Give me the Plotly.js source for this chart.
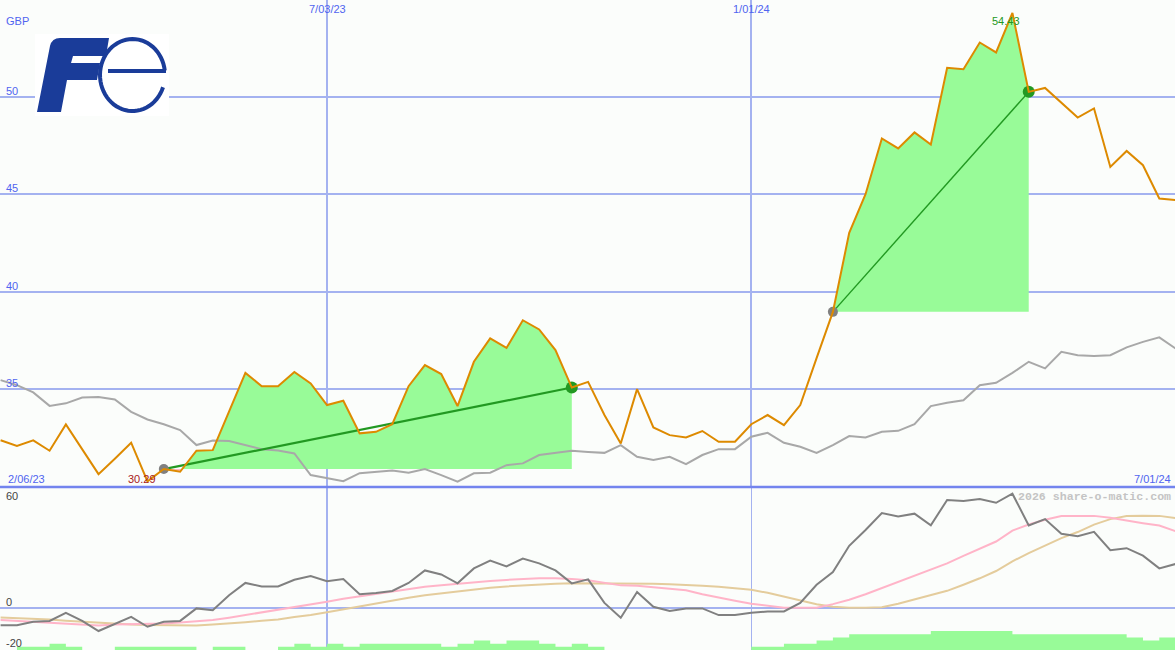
<!DOCTYPE html>
<html>
<head>
<meta charset="utf-8">
<script src="https://cdn.plot.ly/plotly-3.0.1.min.js"></script>
<style>html,body{margin:0;padding:0;background:#fbfdfb;}#chart{width:1175px;height:650px;}</style>
</head>
<body>
<div id="chart"></div>
<script>
// ---------- DATA ----------
const dates = [
 '2023-02-13','2023-02-20','2023-02-27','2023-03-06','2023-03-13','2023-03-20','2023-03-27','2023-04-03','2023-04-10','2023-04-17',
 '2023-04-24','2023-05-01','2023-05-08','2023-05-15','2023-05-22','2023-05-29','2023-06-05','2023-06-12','2023-06-19','2023-06-26',
 '2023-07-03','2023-07-10','2023-07-17','2023-07-24','2023-07-31','2023-08-07','2023-08-14','2023-08-21','2023-08-28','2023-09-04',
 '2023-09-11','2023-09-18','2023-09-25','2023-10-02','2023-10-09','2023-10-16','2023-10-23','2023-10-30','2023-11-06','2023-11-13',
 '2023-11-20','2023-11-27','2023-12-04','2023-12-11','2023-12-18','2023-12-25','2024-01-01','2024-01-08','2024-01-15','2024-01-22',
 '2024-01-29','2024-02-05','2024-02-12','2024-02-19','2024-02-26','2024-03-04','2024-03-11','2024-03-18','2024-03-25','2024-04-01',
 '2024-04-08','2024-04-15','2024-04-22','2024-04-29','2024-05-06','2024-05-13','2024-05-20','2024-05-27','2024-06-03','2024-06-10',
 '2024-06-17','2024-06-24','2024-07-01'];

// share price, GBP
const price = [
 32.40,32.10,32.39,31.86,33.21,31.94,30.66,31.45,32.27,30.29,
 30.92,30.78,31.86,31.89,33.87,35.85,35.17,35.17,35.90,35.31,
 34.20,34.42,32.75,32.83,33.22,35.17,36.25,35.79,34.15,36.42,
 37.62,37.13,38.55,38.08,37.02,35.10,35.39,33.69,32.23,35.02,
 33.05,32.66,32.54,32.87,32.32,32.32,33.22,33.69,33.17,34.20,
 36.61,38.98,43.03,45.01,47.87,47.36,48.18,47.56,51.49,51.42,
 52.79,52.28,54.31,50.26,50.46,49.70,48.94,49.41,46.41,47.23,
 46.50,44.79,44.71];

// relative-strength comparison line (grey)
const relative = [
 35.48,35.22,34.85,34.16,34.29,34.59,34.62,34.49,33.85,33.46,
 33.22,32.92,32.15,32.38,32.36,32.15,31.94,31.87,31.72,30.61,
 30.47,30.30,30.71,30.76,30.84,30.73,30.92,30.61,30.27,30.70,
 30.73,31.12,31.21,31.64,31.75,31.86,31.80,31.75,32.15,31.55,
 31.38,31.55,31.17,31.64,31.94,31.94,32.58,32.78,32.27,32.06,
 31.75,32.15,32.61,32.54,32.83,32.88,33.22,34.15,34.32,34.45,
 35.22,35.34,35.85,36.42,36.08,36.93,36.76,36.72,36.76,37.16,
 37.44,37.67,37.10];

// lower panel: momentum (dark grey) and its two averages
const momentum = [
 -8.4,-8.4,-6.7,-6.3,-2.3,-6.3,-11.3,-7.9,-4.3,-9.2,
 -6.7,-6.3,-0.1,-1.0,6.4,12.5,10.8,10.8,14.1,15.9,
 13.4,14.4,6.9,7.5,8.5,12.5,18.7,16.7,12.3,19.7,
 23.6,20.7,24.6,22.2,18.7,12.3,14.3,2.6,-4.7,8.0,
 0.7,-1.4,-0.1,-0.1,-3.4,-3.4,-2.3,-1.6,-1.6,2.6,
 11.6,17.9,30.9,38.7,47.1,45.4,46.8,41.0,53.6,53.1,
 54.0,52.2,56.7,41.0,44.1,36.8,35.6,37.8,28.7,29.7,
 26.0,19.7,21.9];

const avgFast = [
 -5.9,-6.4,-6.9,-7.4,-7.9,-8.4,-8.6,-8.1,-7.9,-7.9,
 -7.6,-7.1,-6.4,-5.9,-4.7,-3.4,-2.0,-0.7,0.5,1.7,
 3.2,4.7,5.9,7.1,8.4,9.6,10.6,11.3,12.1,12.8,
 13.5,14.0,14.5,14.8,14.8,14.5,13.8,12.6,11.3,11.1,
 10.3,9.6,8.9,6.9,5.2,3.7,2.2,1.2,0.2,0.2,
 0.2,2.0,4.2,6.9,9.9,13.1,16.3,19.2,22.2,25.9,
 29.6,33.0,38.4,41.4,43.8,45.6,45.7,45.7,44.8,43.3,
 42.1,40.9,38.1];

const avgSlow = [
 -4.6,-4.9,-5.3,-5.6,-6.2,-6.7,-7.4,-7.9,-8.1,-8.3,
 -8.4,-8.6,-8.6,-8.1,-7.6,-6.9,-6.2,-5.6,-4.4,-3.4,
 -2.0,-0.5,1.0,2.5,3.9,5.2,6.4,7.4,8.4,9.4,
 10.1,10.8,11.3,11.8,12.1,12.3,12.3,12.3,12.3,12.2,
 12.1,11.8,11.6,11.1,10.6,9.9,9.1,7.6,5.7,3.7,
 2.0,0.7,0.2,0.2,0.5,2.2,4.4,6.4,8.6,11.6,
 14.8,18.4,23.2,27.3,30.8,34.7,37.7,41.4,44.1,45.6,
 45.8,45.7,44.6];

// weekly volume (relative units)
const volume = [
 0,1,1,2,1,0,0,1,1,1,
 1,1,0,1,1,0,0,1,2,1,
 2,1,2,2,2,2,2,1,2,3,
 2,3,3,2,1,2,1,0,0,0,
 0,0,0,0,0,0,1,1,2,2,
 3,4,5,5,5,5,5,6,6,6,
 6,6,5,5,5,5,5,5,5,4,
 3,4,4];

// highlighted rises (start index, end index into the weekly series)
const rises = [[10, 35], [51, 63]];

const priceTicks = [35, 40, 45, 50];
const lowerTicks = [60, 0, -20];
const dateTicks = ['2023-07-03', '2024-01-01'];
const dateTickText = ['7/03/23', '1/01/24'];
const rangeStartText = '2/06/23';
const rangeEndText = '7/01/24';
const lowText = '30.29';
const highText = '54.43';
const currency = 'GBP';
const watermark = '2026 share-o-matic.com';

// ---------- STYLE ----------
const W = 1175, H = 650;
const BG = '#fbfdfb';
const GRID = '#a4b2f0';
const BLUE_TXT = '#5064f0';
const FILL_UP = '#98fb98';
const FILL_DN = '#ffb6c1';
const TREND = '#229922';
const split = 1 - 487 / H;

const ms = d => new Date(d).getTime();

function regionPoly(i0, i1, above) {
  const base = price[i0];
  const xs = [], ys = [];
  for (let i = i0; i <= i1; i++) {
    if (i > i0) {
      const a = price[i - 1] - base, b = price[i] - base;
      if (a * b < 0) {
        const t = a / (a - b);
        xs.push(ms(dates[i - 1]) + t * (ms(dates[i]) - ms(dates[i - 1])));
        ys.push(base);
      }
    }
    xs.push(ms(dates[i]));
    ys.push(above ? Math.max(price[i], base) : Math.min(price[i], base));
  }
  xs.push(ms(dates[i1]), ms(dates[i0]));
  ys.push(base, base);
  return {xs, ys};
}

const traces = [];
rises.forEach(([a, b]) => {
  const up = regionPoly(a, b, true);
  traces.push({x: up.xs, y: up.ys, type: 'scatter', mode: 'lines', fill: 'toself',
    fillcolor: FILL_UP, line: {width: 0, color: FILL_UP}, hoverinfo: 'skip', xaxis: 'x', yaxis: 'y'});
  const dn = regionPoly(a, b, false);
  traces.push({x: dn.xs, y: dn.ys, type: 'scatter', mode: 'lines', fill: 'toself',
    fillcolor: FILL_DN, line: {width: 0, color: FILL_DN}, hoverinfo: 'skip', xaxis: 'x', yaxis: 'y'});
});

traces.push({x: dates, y: relative, type: 'scatter', mode: 'lines',
  line: {color: '#a8a8a8', width: 2}, xaxis: 'x', yaxis: 'y'});

rises.forEach(([a, b], k) => {
  traces.push({x: [dates[a], dates[b]], y: [price[a], price[b]], type: 'scatter', mode: 'lines',
    line: {color: TREND, width: k === 0 ? 2.2 : 1.4}, xaxis: 'x', yaxis: 'y'});
  traces.push({x: [dates[a]], y: [price[a]], type: 'scatter', mode: 'markers',
    marker: {color: '#808080', size: 10}, xaxis: 'x', yaxis: 'y'});
  traces.push({x: [dates[b]], y: [price[b]], type: 'scatter', mode: 'markers',
    marker: {color: TREND, size: 12}, xaxis: 'x', yaxis: 'y'});
});

traces.push({x: dates, y: price, type: 'scatter', mode: 'lines',
  line: {color: '#dd8a00', width: 2}, xaxis: 'x', yaxis: 'y'});

// lower panel
traces.push({x: dates, y: volume, type: 'scatter', mode: 'lines', line: {shape: 'hv', width: 0, color: FILL_UP},
  fill: 'tozeroy', fillcolor: FILL_UP, xaxis: 'x2', yaxis: 'y3'});
traces.push({x: dates, y: avgSlow, type: 'scatter', mode: 'lines', line: {color: '#e4cc9c', width: 2}, xaxis: 'x2', yaxis: 'y2'});
traces.push({x: dates, y: avgFast, type: 'scatter', mode: 'lines', line: {color: '#ffb4c8', width: 2}, xaxis: 'x2', yaxis: 'y2'});
traces.push({x: dates, y: momentum, type: 'scatter', mode: 'lines', line: {color: '#808080', width: 2}, xaxis: 'x2', yaxis: 'y2'});

// ---------- ANNOTATIONS ----------
const F = 'Liberation Sans, Arial, sans-serif';
function lab(text, px, py, anchor, color, size, family) {
  return {text, xref: 'paper', yref: 'paper', x: px / W, y: 1 - py / H, xanchor: anchor, yanchor: 'middle',
    showarrow: false, borderpad: 0, font: {family: family || F, size: size || 11, color}};
}
const yOf = v => 96.7 + (50 - v) * 19.51; // label placement helper for price ticks
const annotations = [
  lab(currency, 5, 21, 'left', BLUE_TXT),
  ...priceTicks.map(v => lab(String(v), 5, yOf(v) - 6, 'left', BLUE_TXT)),
  lab(dateTickText[0], 327, 9, 'center', BLUE_TXT),
  lab(dateTickText[1], 751, 9, 'center', BLUE_TXT),
  lab(rangeStartText, 7, 479, 'left', BLUE_TXT),
  lab(rangeEndText, 1172, 479, 'right', BLUE_TXT),
  lab(lowText, 157, 479, 'right', '#a82020'),
  lab(highText, 1006, 21, 'center', TREND),
  lab(String(lowerTicks[0]), 5, 496, 'left', '#444444'),
  lab(String(lowerTicks[1]), 5, 602, 'left', '#444444'),
  lab(String(lowerTicks[2]), 5, 643, 'left', '#444444'),
  {text: '<b>' + watermark + '</b>', xref: 'paper', yref: 'paper', x: 1172 / W, y: 1 - 496 / H, xanchor: 'right',
   yanchor: 'middle', showarrow: false, borderpad: 0,
   font: {family: 'Liberation Mono, DejaVu Sans Mono, monospace', size: 11.6, color: '#c4c4c4'}}
];

// ---------- LOGO (shapes in paper coords) ----------
const P = (x, y) => (x / W).toFixed(5) + ',' + (1 - y / H).toFixed(5);
const fPath = 'M' + P(37, 112) + ' L' + P(50, 46) + ' Q' + P(52, 38) + ' ' + P(60, 38) + ' L' + P(109, 38) +
  ' L' + P(106, 56) + ' L' + P(73, 56) + ' L' + P(71, 63) + ' L' + P(100, 63) + ' L' + P(97, 80) +
  ' L' + P(67, 80) + ' L' + P(61, 112) + ' Z';
let ePath = '';
for (let k = 0; k <= 60; k++) {
  const th = (-7 - k * (333 / 60)) * Math.PI / 180;
  const x = 132.5 + 32.5 * Math.cos(th), y = 75 + 36 * Math.sin(th);
  ePath += (k === 0 ? 'M' : ' L') + P(x, y);
}
const LOGO = '#1a3c99';
const shapes = [
  {type: 'rect', xref: 'paper', yref: 'paper', x0: 35 / W, x1: 169 / W, y0: 1 - 116 / H, y1: 1 - 34 / H,
   fillcolor: '#ffffff', line: {width: 0}, layer: 'above'},
  {type: 'path', xref: 'paper', yref: 'paper', path: fPath, fillcolor: LOGO, line: {width: 0}, layer: 'above'},
  {type: 'path', xref: 'paper', yref: 'paper', path: ePath, fillcolor: 'rgba(0,0,0,0)', line: {color: LOGO, width: 4}, layer: 'above'},
  {type: 'line', xref: 'paper', yref: 'paper', x0: 108 / W, x1: 166 / W, y0: 1 - 71 / H, y1: 1 - 71 / H,
   line: {color: LOGO, width: 4}, layer: 'above'},
  {type: 'line', xref: 'paper', yref: 'paper', x0: 0, x1: 1, y0: split, y1: split, line: {color: '#7384ee', width: 2.5}, layer: 'above'}
];

const xRange = ['2023-02-12 17:45', '2024-06-30 17:45'];
const layout = {
  width: W, height: H, margin: {l: 0, r: 0, t: 0, b: 0, pad: 0},
  paper_bgcolor: BG, plot_bgcolor: BG, showlegend: false, hovermode: false,
  xaxis: {type: 'date', range: xRange, domain: [0, 1], anchor: 'y', tickvals: dateTicks, showticklabels: false,
    ticks: '', showgrid: true, gridcolor: GRID, gridwidth: 2, zeroline: false, showline: false},
  yaxis: {range: [30, 54.97], domain: [split, 1], anchor: 'x', tickvals: priceTicks, showticklabels: false,
    ticks: '', showgrid: true, gridcolor: GRID, gridwidth: 2, zeroline: false, showline: false},
  xaxis2: {type: 'date', range: xRange, domain: [0, 1], anchor: 'y2', matches: 'x', tickvals: dateTicks, showticklabels: false,
    ticks: '', showgrid: true, gridcolor: GRID, gridwidth: 1.5, zeroline: false, showline: false},
  yaxis2: {range: [-20.7, 60], domain: [0, split], anchor: 'x2', tickvals: [0], showticklabels: false,
    ticks: '', showgrid: true, gridcolor: GRID, gridwidth: 2, zeroline: false, showline: false},
  yaxis3: {range: [0, 51.7], overlaying: 'y2', anchor: 'x2', showticklabels: false, showgrid: false, zeroline: false, ticks: ''},
  annotations, shapes
};

Plotly.newPlot('chart', traces, layout, {staticPlot: true, displayModeBar: false});
</script>
</body>
</html>
